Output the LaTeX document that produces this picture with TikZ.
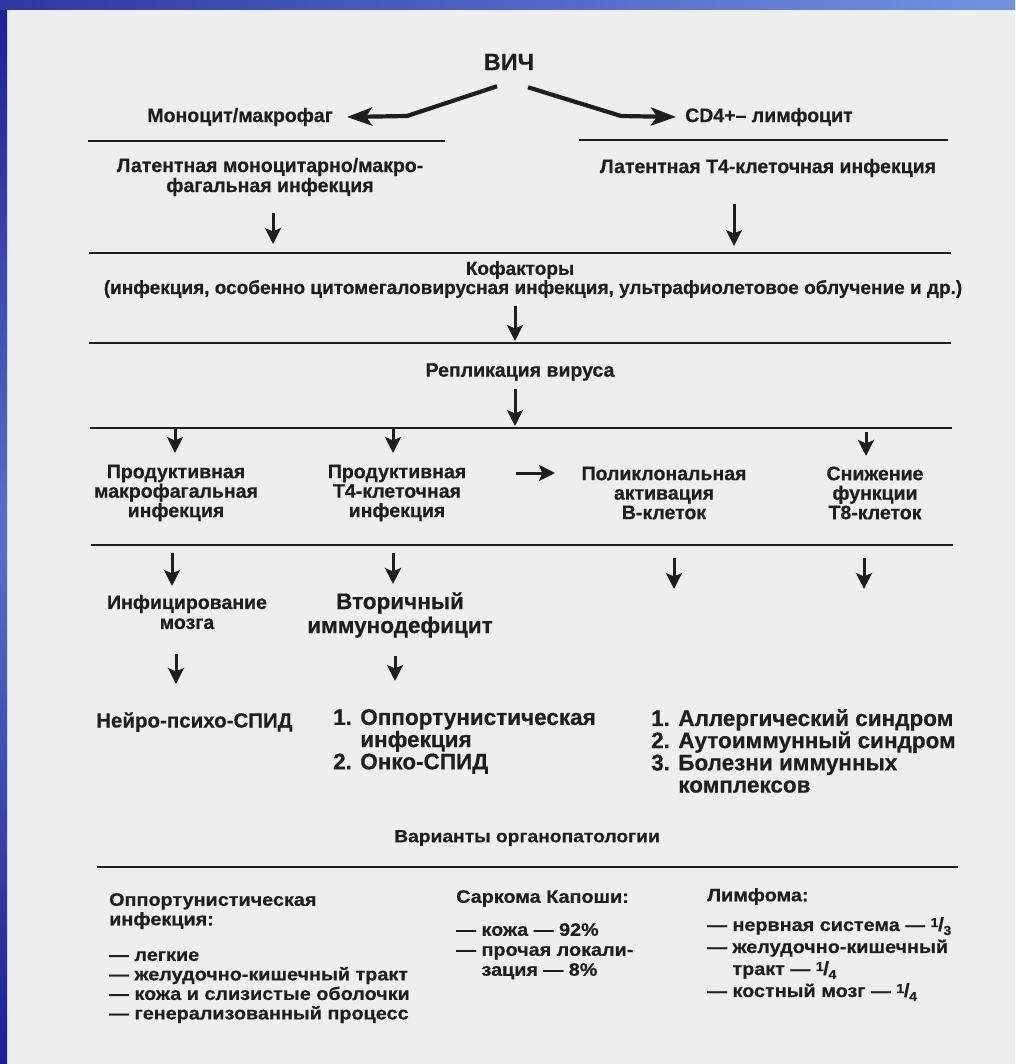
\documentclass[tikz,border=0pt]{standalone}
\usepackage{fontspec}
\setmainfont{Liberation Sans}[BoldFeatures={FakeBold=0.5}]
\newfontfamily\widesans{Liberation Sans}[FakeStretch=1.1,BoldFeatures={FakeBold=0.5}]
\usetikzlibrary{arrows.meta,calc,positioning}
\definecolor{Ink}{HTML}{1E1E1E}
\definecolor{Paper}{HTML}{EEEEEE}
\definecolor{Navy}{HTML}{1E1E92}
\definecolor{Slate}{HTML}{5C6FC8}
\definecolor{Sky}{HTML}{7393E2}
\newcommand{\frc}[2]{\raisebox{4pt}{\fontsize{13}{13}\selectfont #1}\hspace{-.5pt}{\fontsize{19}{19}\selectfont /}\hspace{-.5pt}\raisebox{-4pt}{\fontsize{13}{13}\selectfont #2}}

\begin{document}
\begin{tikzpicture}[x=1pt,y=-1pt,
  txt/.style={text=Ink,font=\fontsize{19.5}{19.5}\selectfont\bfseries,align=center,inner sep=2pt},
  big/.style={text=Ink,font=\fontsize{22.5}{22.2}\selectfont\bfseries,align=left,inner sep=0pt},
  sml/.style={text=Ink,font=\widesans\fontsize{18}{19.5}\selectfont\bfseries,align=left,anchor=north west,inner sep=0pt},
  rule/.style={draw=Ink,line width=2.7pt},
  dnarr/.style={draw=Ink,line width=3pt,-{Stealth[length=16pt,width=16pt,inset=3.5pt]}},
  bigarr/.style={draw=Ink,line width=4.2pt,line join=round,-{Stealth[length=25pt,width=18pt,inset=6pt]}}]
\useasboundingbox (0,0) rectangle (1015,1064);
\fill[Paper] (0,0) rectangle (1015,1064);
\shade[top color=Navy,bottom color=Navy,middle color=Slate] (0,0) rectangle (7,1064);
\shade[left color=Navy!70!Slate,right color=Sky] (0,0) rectangle (1015,10);

\foreach \y/\a/\b in {141/88/445,140/579/948,253/89/951,343/89/951,428/90/952,545/91/953,867/97/958}
  \draw[rule] (\a,\y) -- (\b,\y);

\node[txt,font=\fontsize{23.5}{24}\selectfont\bfseries] (vich) at (509,62) {ВИЧ};
\node[txt,anchor=east] (mono) at (335,117) {Моноцит/макрофаг};
\node[txt,anchor=west] (cd4) at (683,117) {CD4+– лимфоцит};
\coordinate (kl) at (407,116);
\coordinate (kr) at (621,116);
\draw[bigarr] ([shift={(-12pt,-14pt)}]vich.south) -- (kl) -- ([xshift=12pt]mono.east);
\draw[bigarr] ([shift={(19pt,-15pt)}]vich.south) -- (kr) -- ([xshift=-7pt]cd4.west);

\node[txt,font=\fontsize{19.5}{20}\selectfont\bfseries] (lat1) at (270,177) {Латентная моноцитарно/макро-\\фагальная инфекция};
\node[txt] (lat2) at (768,168) {Латентная Т4-клеточная инфекция};
\node[txt,font=\fontsize{19}{19}\selectfont\bfseries] (kof) at (520,270) {Кофакторы};
\node[txt,font=\fontsize{19}{19}\selectfont\bfseries] (kofx) at (533,289) {(инфекция, особенно цитомегаловирусная инфекция, ультрафиолетовое облучение и др.)};
\node[txt] (repl) at (520,372) {Репликация вируса};

\node[txt] (p1) at (176,493) {Продуктивная\\макрофагальная\\инфекция};
\node[txt] (p2) at (397,493) {Продуктивная\\Т4-клеточная\\инфекция};
\node[txt] (p3) at (664,493) {Поликлональная\\активация\\В-клеток};
\node[txt] (p4) at (875,493) {Снижение\\функции\\Т8-клеток};

\node[txt,font=\fontsize{19.5}{20}\selectfont\bfseries] (brain) at (187,612) {Инфицирование\\мозга};
\node[big,align=center,font=\fontsize{22.5}{24}\selectfont\bfseries] (sec) at (400,615) {Вторичный\\иммунодефицит};

\node[big,anchor=west,font=\fontsize{20.5}{22}\selectfont\bfseries] (neuro) at (96,722) {Нейро-психо-СПИД};
\node[big,anchor=north west] (opp) at (333,709) {1. Оппортунистическая\\\phantom{1. }инфекция\\2. Онко-СПИД};
\node[big,anchor=north west] (allerg) at (651,709) {1. Аллергический синдром\\2. Аутоиммунный синдром\\3. Болезни иммунных\\\phantom{3. }комплексов};

\foreach \n/\x/\ya/\yb in {lat1/273/213/244,lat2/734/204/246,kof/515/306/341,repl/515/389/426,p1/175/429/453,p2/393/429/453,p4/866/432/456,brain/172/553/586,sec/393/553/584,p3/674/558/589,p4b/864/558/589,neuro/176/654/684,opp/395/656/681}{
  \coordinate (\n-a) at (\x,\ya);
  \coordinate (\n-b) at (\x,\yb);
  \draw[dnarr] (\n-a) -- (\n-b);
}
\coordinate (hr-a) at (516,473);
\coordinate (hr-b) at (555,473);
\draw[dnarr] (hr-a) -- (hr-b);

\node[txt,font=\widesans\fontsize{17.5}{18}\selectfont\bfseries] (var) at (527,838) {Варианты органопатологии};
\node[sml] (oi) at (109,893) {Оппортунистическая\\инфекция:};
\node[sml] (oil) at (109,951) {— легкие\\— желудочно-кишечный тракт\\— кожа и слизистые оболочки\\— генерализованный процесс};
\node[sml] (kap) at (456,890) {Саркома Капоши:};
\node[sml,font=\widesans\fontsize{18}{20}\selectfont\bfseries] (kapl) at (456,923) {— кожа — 92\%\\— прочая локали-\\\phantom{— }зация — 8\%};
\node[sml] (lym) at (707,888) {Лимфома:};
\node[sml,font=\widesans\fontsize{18}{22}\selectfont\bfseries] (lyml) at (707,917) {— нервная система — \frc{1}{3}\\— желудочно-кишечный\\\phantom{— }тракт — \frc{1}{4}\\— костный мозг — \frc{1}{4}};
\end{tikzpicture}
\end{document}
